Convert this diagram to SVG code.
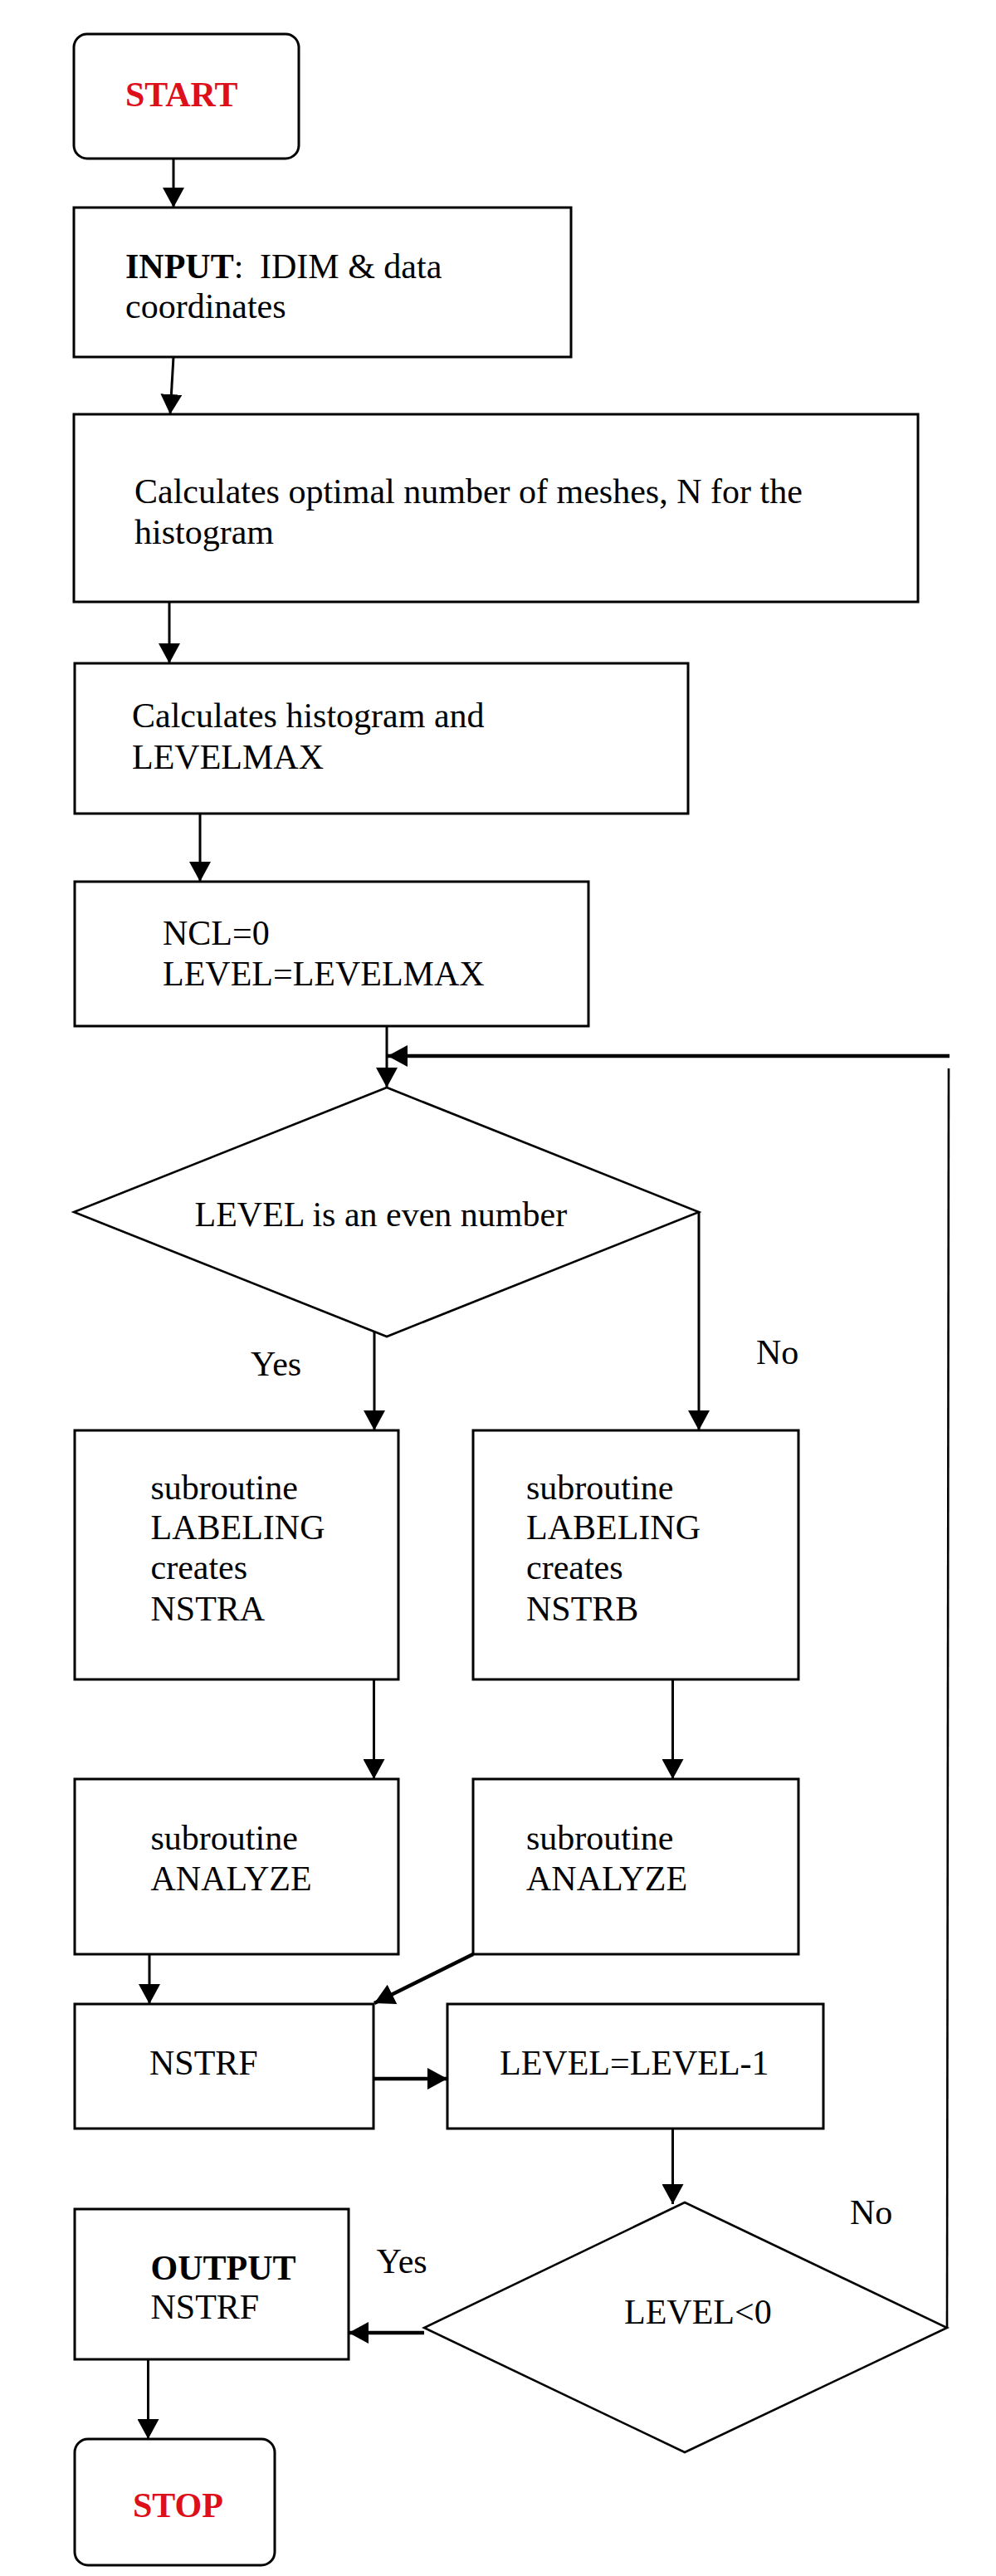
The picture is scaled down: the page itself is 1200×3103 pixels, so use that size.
<svg xmlns="http://www.w3.org/2000/svg" width="1200" height="3103" viewBox="0 0 1200 3103">
<style>
  .box{fill:#fff;stroke:#000;stroke-width:3}
  .dia{fill:#fff;stroke:#000;stroke-width:2.6}
  .t{font-family:"Liberation Serif","Times New Roman",serif;font-size:42px;fill:#000}
  .b{font-weight:bold}
  .red{fill:#dd0f1a;font-weight:bold}
  .c{fill:none;stroke:#000;stroke-width:3}
  .thick{stroke-width:4.5}
  .thin{stroke-width:2.6}
</style>
<defs>
  <marker id="ah" markerUnits="userSpaceOnUse" markerWidth="24" markerHeight="26" refX="24" refY="13" orient="auto">
    <path d="M0,0 L24,13 L0,26 Z" fill="#000"/>
  </marker>
</defs>
<rect width="1200" height="3103" fill="#fff"/>

<g id="connectors">
  <line class="c" x1="209" y1="191" x2="209" y2="250" marker-end="url(#ah)"/>
  <line class="c" x1="209" y1="430" x2="205" y2="499" marker-end="url(#ah)"/>
  <line class="c" x1="204" y1="725" x2="204" y2="799" marker-end="url(#ah)"/>
  <line class="c" x1="241" y1="980" x2="241" y2="1062" marker-end="url(#ah)"/>
  <line class="c" x1="466" y1="1236" x2="466" y2="1310" marker-end="url(#ah)"/>
  <line class="c thin" x1="1141" y1="2804" x2="1143" y2="1287"/>
  <line class="c thick" x1="1144" y1="1272" x2="467" y2="1272" marker-end="url(#ah)"/>
  <line class="c" x1="451" y1="1601" x2="451" y2="1723" marker-end="url(#ah)"/>
  <line class="c" x1="842" y1="1460" x2="842" y2="1723" marker-end="url(#ah)"/>
  <line class="c" x1="450.5" y1="2023" x2="450.5" y2="2143" marker-end="url(#ah)"/>
  <line class="c" x1="810.5" y1="2023" x2="810.5" y2="2143" marker-end="url(#ah)"/>
  <line class="c" x1="180" y1="2354" x2="180" y2="2414" marker-end="url(#ah)"/>
  <line class="c thick" x1="570" y1="2354" x2="451" y2="2413" marker-end="url(#ah)"/>
  <line class="c thick" x1="450" y1="2504" x2="539" y2="2504" marker-end="url(#ah)"/>
  <line class="c" x1="810.5" y1="2564" x2="810.5" y2="2655" marker-end="url(#ah)"/>
  <line class="c thick" x1="511" y1="2810" x2="420" y2="2810" marker-end="url(#ah)"/>
  <line class="c" x1="178.5" y1="2842" x2="178.5" y2="2938" marker-end="url(#ah)"/>
</g>

<g id="start">
  <rect class="box" x="89" y="41" width="271" height="150" rx="16"/>
  <text class="t red" x="151" y="128">START</text>
</g>
<g id="input">
  <rect class="box" x="89" y="250" width="599" height="180"/>
  <text class="t" x="151" y="335"><tspan class="b">INPUT</tspan>:<tspan x="313">IDIM &amp; data</tspan></text>
  <text class="t" x="151" y="383">coordinates</text>
</g>
<g id="optimal">
  <rect class="box" x="89" y="499" width="1017" height="226"/>
  <text class="t" x="162" y="606">Calculates optimal number of meshes, N for the</text>
  <text class="t" x="162" y="655">histogram</text>
</g>
<g id="histogram">
  <rect class="box" x="90" y="799" width="739" height="181"/>
  <text class="t" x="159" y="876">Calculates histogram and</text>
  <text class="t" x="159" y="926">LEVELMAX</text>
</g>
<g id="init">
  <rect class="box" x="90" y="1062" width="619" height="174"/>
  <text class="t" x="196" y="1138">NCL=0</text>
  <text class="t" x="196" y="1187">LEVEL=LEVELMAX</text>
</g>
<g id="even">
  <polygon class="dia" points="466,1310 89,1460 466,1610 842,1460"/>
  <text class="t" x="234.5" y="1477">LEVEL is an even number</text>
</g>
<g id="labels1">
  <text class="t" x="302" y="1657">Yes</text>
  <text class="t" x="911" y="1643">No</text>
</g>
<g id="labelingA">
  <rect class="box" x="90" y="1723" width="390" height="300"/>
  <text class="t" x="181.5" y="1806">subroutine</text>
  <text class="t" x="181.5" y="1854">LABELING</text>
  <text class="t" x="181.5" y="1902">creates</text>
  <text class="t" x="181.5" y="1952">NSTRA</text>
</g>
<g id="labelingB">
  <rect class="box" x="570" y="1723" width="392" height="300"/>
  <text class="t" x="634" y="1806">subroutine</text>
  <text class="t" x="634" y="1854">LABELING</text>
  <text class="t" x="634" y="1902">creates</text>
  <text class="t" x="634" y="1952">NSTRB</text>
</g>
<g id="analyzeA">
  <rect class="box" x="90" y="2143" width="390" height="211"/>
  <text class="t" x="181.5" y="2228">subroutine</text>
  <text class="t" x="181.5" y="2277">ANALYZE</text>
</g>
<g id="analyzeB">
  <rect class="box" x="570" y="2143" width="392" height="211"/>
  <text class="t" x="634" y="2228">subroutine</text>
  <text class="t" x="634" y="2277">ANALYZE</text>
</g>
<g id="nstrf">
  <rect class="box" x="90" y="2414" width="360" height="150"/>
  <text class="t" x="180" y="2499">NSTRF</text>
</g>
<g id="decrement">
  <rect class="box" x="539" y="2414" width="453" height="150"/>
  <text class="t" x="602" y="2499">LEVEL=LEVEL-1</text>
</g>
<g id="negative">
  <polygon class="dia" points="825,2653 511,2804 825,2954 1141,2804"/>
  <text class="t" x="752" y="2799">LEVEL&lt;0</text>
</g>
<g id="labels2">
  <text class="t" x="1024" y="2679">No</text>
  <text class="t" x="453.5" y="2738">Yes</text>
</g>
<g id="output">
  <rect class="box" x="90" y="2661" width="330" height="181"/>
  <text class="t b" x="181.5" y="2746">OUTPUT</text>
  <text class="t" x="181.5" y="2793">NSTRF</text>
</g>
<g id="stop">
  <rect class="box" x="90" y="2938" width="241" height="152" rx="16"/>
  <text class="t red" x="160" y="3032">STOP</text>
</g>
</svg>
